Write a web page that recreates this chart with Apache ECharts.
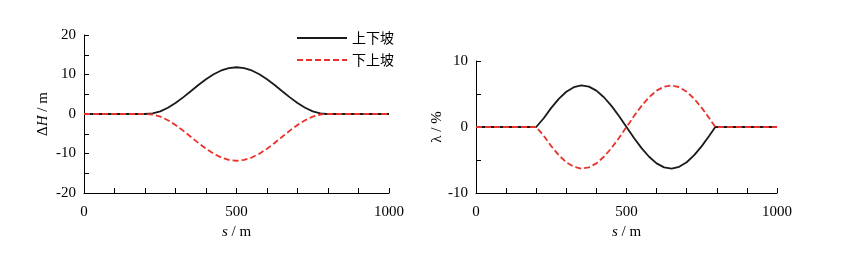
<!DOCTYPE html>
<html><head><meta charset="utf-8">
<script src="https://cdn.jsdelivr.net/npm/echarts@6/dist/echarts.min.js"></script>
<style>html,body{margin:0;padding:0;background:#fff}#c{width:847px;height:255px}</style>
</head><body><div id="c"></div>
<script>
const sValues = [0,50,100,150,200,205,225,250,275,300,325,350,375,400,425,450,475,500,525,550,575,600,625,650,675,700,725,750,775,795,800,850,900,950,1000];
const dH_updown = [0,0,0,0,0,0,0.13,0.67,1.57,2.78,4.21,5.76,7.33,8.79,10.05,11.02,11.63,11.84,11.63,11.02,10.05,8.79,7.33,5.76,4.21,2.78,1.57,0.67,0.13,0,0,0,0,0,0];
const dH_downup = [0,0,0,0,0,0,-0.13,-0.67,-1.57,-2.78,-4.21,-5.76,-7.33,-8.79,-10.05,-11.02,-11.63,-11.84,-11.63,-11.02,-10.05,-8.79,-7.33,-5.76,-4.21,-2.78,-1.57,-0.67,-0.13,0,0,0,0,0,0];
const lam_updown = [0,0,0,0,0,0,1.33,2.90,4.27,5.34,6.03,6.30,6.12,5.51,4.51,3.20,1.66,0,-1.66,-3.20,-4.51,-5.51,-6.12,-6.30,-6.03,-5.34,-4.27,-2.90,-1.33,0,0,0,0,0,0];
const lam_downup = [0,0,0,0,0,0,-1.33,-2.90,-4.27,-5.34,-6.03,-6.30,-6.12,-5.51,-4.51,-3.20,-1.66,0,1.66,3.20,4.51,5.51,6.12,6.30,6.03,5.34,4.27,2.90,1.33,0,0,0,0,0,0];
const seriesNames = ['上下坡','下上坡'];
const xTickLabels = [0,500,1000];

const pair = (xs, ys) => xs.map((x,i)=>[x, ys[i]]);
const serif = 'Liberation Serif';
const cjk = 'Noto Sans CJK SC';
const black = '#1a1a1a', red = '#e8322b';

function xAxis(gi){
  return {
    type:'value', gridIndex:gi, min:0, max:1000, interval:500,
    axisLine:{show:true, onZero:false, lineStyle:{color:'#000', width:1}},
    axisTick:{show:true, inside:true, length:5, lineStyle:{color:'#000'}},
    minorTick:{show:true, splitNumber:5, length:5, lineStyle:{color:'#000'}},
    splitLine:{show:false},
    axisLabel:{color:'#000', fontFamily:serif, fontSize:15, margin:12,
      formatter:v=>xTickLabels.includes(v)?String(v):''},
    name:'{i|s}{a| / m}', nameLocation:'middle', nameGap:27,
    nameTextStyle:{rich:{i:{fontFamily:serif,fontStyle:'italic',fontSize:15,color:'#000'},a:{fontFamily:serif,fontSize:15,color:'#000'}}}
  };
}
function yAxis(gi, min, max, name, gap){
  return {
    type:'value', gridIndex:gi, min:min, max:max, interval:10,
    axisLine:{show:true, onZero:false, lineStyle:{color:'#000', width:1}},
    axisTick:{show:true, inside:true, length:5, lineStyle:{color:'#000'}},
    minorTick:{show:true, splitNumber:2, length:5, lineStyle:{color:'#000'}},
    splitLine:{show:false},
    axisLabel:{color:'#000', fontFamily:serif, fontSize:15, margin:8},
    name:name, nameLocation:'middle', nameGap:gap, nameRotate:90,
    nameTextStyle:{rich:{i:{fontFamily:serif,fontStyle:'italic',fontSize:15,color:'#000'},a:{fontFamily:serif,fontSize:15,color:'#000'}}}
  };
}
function line(name, xi, data, color, dashed){
  return {
    name:name, type:'line', xAxisIndex:xi, yAxisIndex:xi, data:data,
    symbol:'none', smooth:false, z: dashed?3:2,
    lineStyle:{color:color, width:1.8, type: dashed?[6,3]:'solid'},
    itemStyle:{color:color}
  };
}

const chart = echarts.init(document.getElementById('c'), null, {renderer:'canvas'});
chart.setOption({
  animation:false,
  backgroundColor:'#fff',
  grid:[
    {left:84, right:458, top:35, bottom:62},
    {left:476, right:70, top:61, bottom:62}
  ],
  legend:{
    data:seriesNames, orient:'vertical', left:291, top:26,
    itemWidth:50, itemHeight:12, itemGap:8,
    itemStyle:{opacity:0},
    textStyle:{fontFamily:cjk, fontSize:14, color:'#000'}
  },
  xAxis:[xAxis(0), xAxis(1)],
  yAxis:[yAxis(0,-20,20,'{a|Δ}{i|H}{a| / m}',33), yAxis(1,-10,10,'{a|λ / %}',26)],
  series:[
    line(seriesNames[0],0,pair(sValues,dH_updown),black,false),
    line(seriesNames[1],0,pair(sValues,dH_downup),red,true),
    line(seriesNames[0],1,pair(sValues,lam_updown),black,false),
    line(seriesNames[1],1,pair(sValues,lam_downup),red,true)
  ]
});
</script></body></html>
